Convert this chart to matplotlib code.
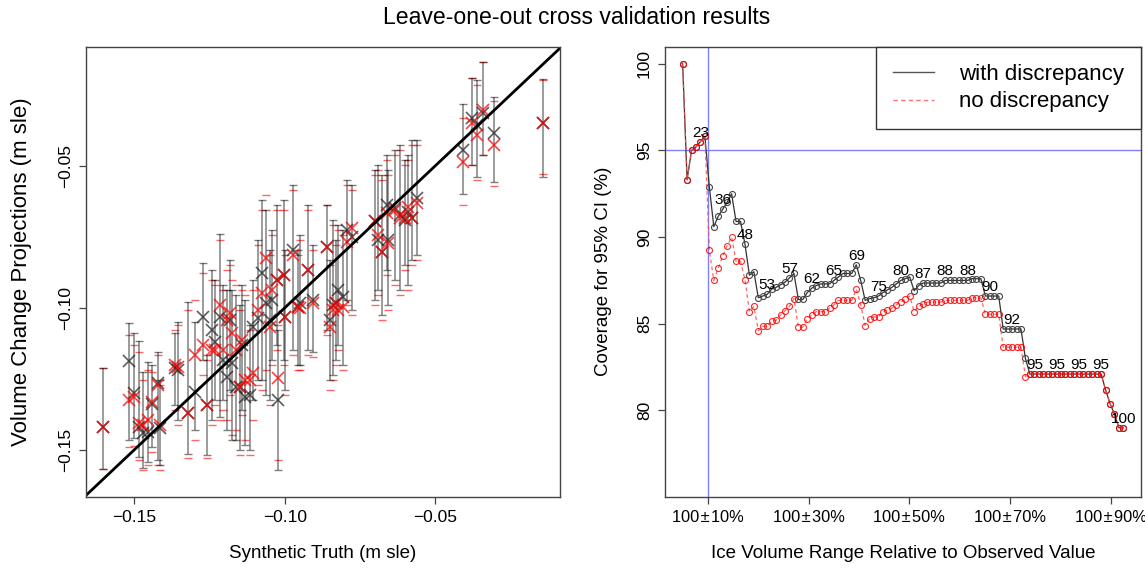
import numpy as np
import matplotlib
matplotlib.use("Agg")
import matplotlib.pyplot as plt
from matplotlib.lines import Line2D

plt.rcParams['font.family'] = ['Liberation Sans', 'DejaVu Sans']

# ---- left panel: synthetic truth vs projections (m sle) ----
truth = [-0.1603, -0.1517, -0.1500, -0.1483, -0.1470, -0.1453, -0.1440, -0.1420, -0.1414, -0.1364,
         -0.1354, -0.1321, -0.1297, -0.1271, -0.1257, -0.1241, -0.1214, -0.1204, -0.1191, -0.1174,
         -0.1161, -0.1148, -0.1131, -0.1105, -0.1075, -0.1061, -0.1048, -0.1025, -0.1022, -0.1002,
         -0.0998, -0.0972, -0.0949, -0.0922, -0.0905, -0.0859, -0.0849, -0.0839, -0.0822, -0.0806,
         -0.0792, -0.0776, -0.0699, -0.0689, -0.0676, -0.0659, -0.0656, -0.0633, -0.0616, -0.0600,
         -0.0590, -0.0576, -0.0560, -0.0407, -0.0377, -0.0360, -0.0341, -0.0304, -0.0141,
         -0.1231, -0.1181, -0.1141, -0.1115, -0.1088, -0.1042, -0.0955, -0.0829]
proj_disc = [-0.1419, -0.1187, -0.1300, -0.1419, -0.1440, -0.1437, -0.1338, -0.1264, -0.1423, -0.1211,
             -0.1218, -0.1370, -0.1296, -0.1032, -0.1342, -0.1077, -0.1032, -0.1183, -0.1243, -0.1194,
             -0.1278, -0.1278, -0.1313, -0.1067, -0.0877, -0.0982, -0.1042, -0.0901, -0.1324, -0.0884,
             -0.1032, -0.0796, -0.0982, -0.0866, -0.0972, -0.0785, -0.1042, -0.0989, -0.0937, -0.0960,
             -0.0725, -0.0749, -0.0694, -0.0761, -0.0802, -0.0637, -0.0761, -0.0649, -0.0673, -0.0690,
             -0.0661, -0.0684, -0.0614, -0.0444, -0.0332, -0.0356, -0.0314, -0.0385, -0.0350,
             -0.1120, -0.1042, -0.1130, -0.1306, -0.1035, -0.0972, -0.0996, -0.0982]
proj_nodisc = [-0.1419, -0.1324, -0.1313, -0.1405, -0.1412, -0.1394, -0.1331, -0.1271, -0.1412, -0.1200,
               -0.1208, -0.1370, -0.1165, -0.1130, -0.1342, -0.1148, -0.0989, -0.1148, -0.1042, -0.1088,
               -0.1148, -0.1278, -0.1254, -0.1229, -0.0947, -0.0824, -0.1067, -0.0901, -0.1246, -0.0884,
               -0.1032, -0.0813, -0.1000, -0.0866, -0.0982, -0.0785, -0.1067, -0.1007, -0.1007, -0.0995,
               -0.0768, -0.0718, -0.0694, -0.0743, -0.0802, -0.0667, -0.0772, -0.0655, -0.0684, -0.0684,
               -0.0643, -0.0684, -0.0631, -0.0487, -0.0350, -0.0391, -0.0303, -0.0426, -0.0350,
               -0.1148, -0.1018, -0.1113, -0.1254, -0.1007, -0.0937, -0.0996, -0.0982]
disc_hi = [-0.1211, -0.1053, -0.1088, -0.1116, -0.1225, -0.1190, -0.1200, -0.1155, -0.1254, -0.1088,
           -0.1049, -0.0979, -0.1049, -0.0842, -0.1165, -0.0866, -0.0739, -0.0919, -0.0937, -0.0937,
           -0.0954, -0.0989, -0.0972, -0.0901, -0.0620, -0.0655, -0.0796, -0.0637, -0.1077, -0.0620,
           -0.0796, -0.0567, -0.0743, -0.0637, -0.0778, -0.0637, -0.0831, -0.0690, -0.0708, -0.0725,
           -0.0549, -0.0567, -0.0514, -0.0496, -0.0532, -0.0461, -0.0514, -0.0444, -0.0426, -0.0479,
           -0.0461, -0.0409, -0.0409, -0.0283, -0.0191, -0.0197, -0.0135, -0.0256, -0.0194,
           -0.0901, -0.0831, -0.0919, -0.1060, -0.0760, -0.0725, -0.0796, -0.0761]
disc_lo = [-0.1567, -0.1465, -0.1458, -0.1525, -0.1563, -0.1542, -0.1489, -0.1535, -0.1553, -0.1342,
           -0.1394, -0.1514, -0.1430, -0.1183, -0.1518, -0.1394, -0.1384, -0.1324, -0.1430, -0.1465,
           -0.1465, -0.1500, -0.1482, -0.1324, -0.1254, -0.1306, -0.1324, -0.1130, -0.1570, -0.1183,
           -0.1289, -0.1148, -0.1201, -0.1148, -0.1155, -0.1077, -0.1254, -0.1236, -0.1130, -0.1201,
           -0.0972, -0.1007, -0.0972, -0.0937, -0.1024, -0.0866, -0.0989, -0.0901, -0.0937, -0.0849,
           -0.0919, -0.0831, -0.0813, -0.0600, -0.0496, -0.0538, -0.0461, -0.0558, -0.0538,
           -0.1324, -0.1289, -0.1359, -0.1500, -0.1254, -0.1183, -0.1201, -0.1183]
nodisc_hi = [-0.1211, -0.1095, -0.1130, -0.1155, -0.1254, -0.1218, -0.1225, -0.1165, -0.1271, -0.1077,
             -0.1060, -0.1007, -0.0972, -0.0877, -0.1183, -0.0901, -0.0760, -0.0937, -0.0866, -0.0901,
             -0.0919, -0.1007, -0.0954, -0.0937, -0.0655, -0.0602, -0.0813, -0.0655, -0.1060, -0.0655,
             -0.0813, -0.0585, -0.0761, -0.0655, -0.0796, -0.0637, -0.0848, -0.0708, -0.0725, -0.0743,
             -0.0567, -0.0585, -0.0532, -0.0514, -0.0549, -0.0479, -0.0532, -0.0461, -0.0444, -0.0496,
             -0.0479, -0.0426, -0.0426, -0.0332, -0.0191, -0.0214, -0.0135, -0.0270, -0.0197,
             -0.0919, -0.0848, -0.0937, -0.1077, -0.0778, -0.0743, -0.0813, -0.0778]
nodisc_lo = [-0.1567, -0.1490, -0.1486, -0.1535, -0.1570, -0.1553, -0.1507, -0.1553, -0.1570, -0.1359,
             -0.1412, -0.1528, -0.1465, -0.1236, -0.1528, -0.1412, -0.1394, -0.1359, -0.1394, -0.1447,
             -0.1430, -0.1518, -0.1465, -0.1394, -0.1289, -0.1218, -0.1342, -0.1148, -0.1535, -0.1200,
             -0.1306, -0.1165, -0.1218, -0.1165, -0.1172, -0.1095, -0.1289, -0.1254, -0.1148, -0.1218,
             -0.0989, -0.1024, -0.0989, -0.0954, -0.1042, -0.0884, -0.1007, -0.0919, -0.0954, -0.0866,
             -0.0937, -0.0849, -0.0831, -0.0637, -0.0496, -0.0549, -0.0461, -0.0570, -0.0530,
             -0.1342, -0.1306, -0.1377, -0.1518, -0.1271, -0.1201, -0.1218, -0.1201]
left_ticks = [-0.15, -0.10, -0.05]
left_ticklabels = ['\u22120.15', '\u22120.10', '\u22120.05']

# ---- right panel: coverage of 95% CI ----
cov_disc = [100.0, 93.3, 95.0, 95.2, 95.5, 95.8, 92.9, 90.6, 91.2, 91.6,
            92.0, 92.5, 90.9, 90.9, 89.6, 87.8, 88.0, 86.5, 86.6, 86.7,
            87.0, 87.1, 87.25, 87.4, 87.65, 87.9, 86.4, 86.4, 86.8, 87.05,
            87.2, 87.3, 87.3, 87.3, 87.5, 87.7, 87.9, 87.9, 87.9, 88.4,
            87.5, 86.35, 86.45, 86.5, 86.6, 86.8, 86.95, 87.1, 87.3, 87.5,
            87.6, 87.7, 86.9, 87.2, 87.35, 87.35, 87.35, 87.35, 87.35, 87.5,
            87.5, 87.5, 87.5, 87.5, 87.5, 87.6, 87.6, 87.6, 86.6, 86.6,
            86.6, 86.6, 84.7, 84.7, 84.7, 84.7, 84.7, 83.0, 82.1, 82.1,
            82.1, 82.1, 82.1, 82.1, 82.1, 82.1, 82.1, 82.1, 82.1, 82.1,
            82.1, 82.1, 82.1, 82.1, 82.1, 81.2, 80.4, 79.8, 79.0, 79.0]
cov_nodisc = [100.0, 93.3, 95.0, 95.2, 95.5, 95.8, 89.25, 87.5, 88.2, 88.9,
              89.5, 90.0, 88.6, 88.6, 87.55, 85.7, 86.0, 84.6, 84.85, 84.85,
              85.15, 85.2, 85.5, 85.75, 86.0, 86.45, 84.8, 84.8, 85.3, 85.5,
              85.7, 85.7, 85.7, 85.9, 86.1, 86.35, 86.35, 86.35, 86.35, 87.0,
              86.1, 84.9, 85.3, 85.4, 85.4, 85.7, 85.8, 85.9, 86.1, 86.25,
              86.4, 86.6, 85.7, 86.0, 86.15, 86.25, 86.25, 86.25, 86.25, 86.35,
              86.35, 86.35, 86.35, 86.35, 86.35, 86.5, 86.5, 86.5, 85.55, 85.55,
              85.55, 85.55, 83.65, 83.65, 83.65, 83.65, 83.65, 81.95, 82.1, 82.1,
              82.1, 82.1, 82.1, 82.1, 82.1, 82.1, 82.1, 82.1, 82.1, 82.1,
              82.1, 82.1, 82.1, 82.1, 82.1, 81.2, 80.4, 79.8, 79.0, 79.0]
range_pct = np.linspace(5, 92.5, len(cov_disc))
count_labels = ['23', '36', '48', '53', '57', '62', '65', '69', '75', '80',
                '87', '88', '88', '90', '92', '95', '95', '95', '95', '100']
label_every = 5
right_xticks = [10, 30, 50, 70, 90]
right_xticklabels = ['100\u200a±\u200a10%', '100\u200a±\u200a30%', '100\u200a±\u200a50%',
                     '100\u200a±\u200a70%', '100\u200a±\u200a90%']
right_yticks = [80, 85, 90, 95, 100]

truth = np.array(truth)
proj_disc = np.array(proj_disc)
proj_nodisc = np.array(proj_nodisc)

fig = plt.figure(figsize=(11.45, 5.70), dpi=100)
fig.text(0.504, 1 - 18 / 570, 'Leave-one-out cross validation results',
         ha='center', va='center', fontsize=16.6)

ax1 = fig.add_axes([86 / 1145, 73.5 / 570, 474 / 1145, 449.5 / 570])
ax2 = fig.add_axes([665 / 1145, 73.5 / 570, 476 / 1145, 449.5 / 570])

# left panel: red caps sit under the grey black-model bars
ax1.plot(truth, nodisc_hi, '_', color=(1, 0, 0, 0.6), ms=6, mew=1)
ax1.plot(truth, nodisc_lo, '_', color=(1, 0, 0, 0.6), ms=6, mew=1)
ax1.errorbar(truth, proj_disc,
             yerr=[proj_disc - np.array(disc_lo), np.array(disc_hi) - proj_disc],
             fmt='none', ecolor=(0, 0, 0, 0.5), elinewidth=1.1, capsize=3, capthick=1)
ax1.plot(truth, proj_disc, 'x', color=(0.15, 0.15, 0.15, 0.75), ms=9, mew=1.2)
ax1.plot(truth, proj_nodisc, 'x', color=(1, 0, 0, 0.75), ms=9, mew=1.2)
ax1.axline((-0.1, -0.1), slope=1, color='black', lw=2)
ax1.set_xlim(-0.166, -0.0085)
ax1.set_ylim(-0.1664, -0.0081)
ax1.set_xticks(left_ticks, left_ticklabels)
ax1.set_yticks(left_ticks, left_ticklabels, rotation=90, va='center')
ax1.set_xlabel('Synthetic Truth (m sle)', fontsize=13.5)
ax1.set_ylabel('Volume Change Projections (m sle)', fontsize=16)
ax1.xaxis.set_label_coords(0.5, (496.5 - 553) / 449.5)
ax1.yaxis.set_label_coords((22 - 86) / 474, 0.5)

# right panel
ax2.axhline(95, color='#8080ff', lw=1, zorder=1)
ax2.axvline(10, color='#8080ff', lw=1, zorder=1)
ax2.plot(range_pct, cov_disc, '-', color='#333333', lw=0.9, marker='o', mfc='none',
         mec='#444444', ms=4.3, mew=0.8, zorder=3)
ax2.plot(range_pct, cov_nodisc, color=(1, 0.3, 0.3, 0.85), lw=0.9, dashes=(3, 2.5),
         marker='o', mfc='none', mec=(1, 0, 0, 0.85), ms=4.3, mew=0.8, zorder=4)
for k, lab in enumerate(count_labels):
    i = (k + 1) * label_every - 1
    ax2.annotate(lab, (range_pct[i], cov_disc[i]), xytext=(0, 6.5),
                 textcoords='offset points', ha='center', va='center', fontsize=11,
                 zorder=5)
ax2.set_xlim(1.5, 96)
ax2.set_ylim(75.04, 100.96)
ax2.set_xticks(right_xticks, right_xticklabels)
ax2.set_yticks(right_yticks, [str(v) for v in right_yticks], rotation=90, va='center')
ax2.set_xlabel('Ice Volume Range Relative to Observed Value', fontsize=13.5)
ax2.set_ylabel('Coverage for 95% CI (%)', fontsize=13.5)
ax2.xaxis.set_label_coords(0.5, (496.5 - 553) / 449.5)
ax2.yaxis.set_label_coords((603 - 665) / 476, 0.5)

handles = [Line2D([], [], color='#555555', lw=1),
           Line2D([], [], color='#ff7070', lw=1, dashes=(3, 2.5))]
ax2.legend(handles, ['with discrepancy', 'no discrepancy'], loc='upper right',
           fontsize=16, frameon=True, fancybox=False, framealpha=1,
           edgecolor='#333333', borderaxespad=0, handlelength=1.85,
           handletextpad=1.15, borderpad=0.75, labelspacing=0.3)
ax2.get_legend().get_frame().set_linewidth(1)

for ax in (ax1, ax2):
    for sp in ax.spines.values():
        sp.set_color('#444444')
        sp.set_linewidth(1)
    ax.tick_params(length=5, width=0.9, color='#444444', labelsize=12.5, pad=4.5)
    ax.xaxis.label.set_va('center')
    ax.yaxis.label.set_va('center')
ax2.tick_params(axis='x', labelsize=11.8)

fig.savefig('out.png', dpi=100)
